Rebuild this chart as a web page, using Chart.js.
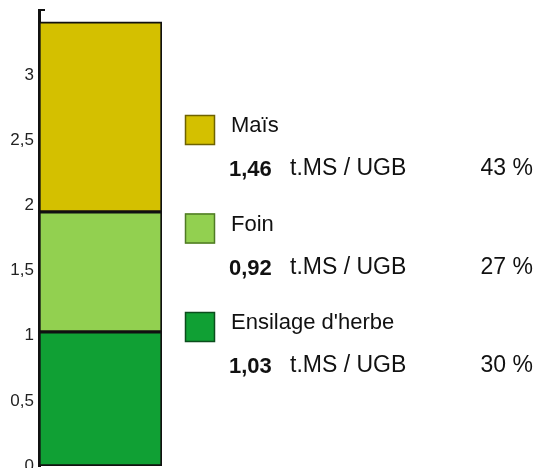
<!DOCTYPE html>
<html>
<head>
<meta charset="utf-8">
<script src="https://cdn.jsdelivr.net/npm/chart.js@4/dist/chart.umd.min.js"></script>
<style>
  body { margin: 0; background: #fff; }
</style>
</head>
<body>
<canvas id="fourrages" width="537" height="468"></canvas>
<script>
// feed stock per UGB, bottom to top of the bar
const feedLabels = ["Ensilage d'herbe", "Foin", "Maïs"];
const feedValues = [1.03, 0.92, 1.46];
const feedPercents = [30, 27, 43];
const feedColors = ["#10A034", "#92D050", "#D4C000"];
const feedBorders = ["#0b4d1c", "#4f7a25", "#6e6200"];
const unitLabel = "t.MS / UGB";
const yTicks = [0, 0.5, 1, 1.5, 2, 2.5, 3, 3.5];

const fmt = (v) => String(v).replace(".", ",");
const fmt2 = (v) => v.toFixed(2).replace(".", ",");

// legend on the right, top entry first (Maïs)
const sideLegend = {
  id: "sideLegend",
  afterDraw(chart) {
    const ctx = chart.ctx;
    ctx.save();
    const order = [2, 1, 0];
    order.forEach((idx, row) => {
      const top = 115 + row * 98.5;
      ctx.fillStyle = feedColors[idx];
      ctx.fillRect(185, top, 30, 30);
      ctx.strokeStyle = feedBorders[idx];
      ctx.lineWidth = 1.5;
      ctx.strokeRect(185.5, top + 0.5, 29, 29);

      ctx.fillStyle = "#111";
      ctx.textBaseline = "middle";
      ctx.textAlign = "left";
      ctx.font = "22px 'Liberation Sans', Arial, sans-serif";
      ctx.fillText(feedLabels[idx], 231, top + 11);

      ctx.font = "bold 22px 'Liberation Sans', Arial, sans-serif";
      ctx.fillText(fmt2(feedValues[idx]), 229, top + 55);
      ctx.font = "23px 'Liberation Sans', Arial, sans-serif";
      ctx.fillText(unitLabel, 290, top + 54);
      ctx.textAlign = "right";
      ctx.fillText(feedPercents[idx] + " %", 533, top + 54);
    });
    // small inward tick at the top of the axis
    const y = chart.scales.y;
    const py = y.getPixelForValue(yTicks[yTicks.length - 1]);
    ctx.strokeStyle = "#111";
    ctx.lineWidth = 2;
    ctx.beginPath();
    ctx.moveTo(38, py);
    ctx.lineTo(45, py);
    ctx.stroke();
    ctx.restore();
  }
};

new Chart(document.getElementById("fourrages"), {
  type: "bar",
  data: {
    labels: [""],
    datasets: feedLabels.map((name, i) => ({
      label: name,
      data: [feedValues[i]],
      backgroundColor: feedColors[i],
      borderColor: "#111",
      borderWidth: 2,
      borderSkipped: false,
      barPercentage: 1,
      categoryPercentage: 1
    }))
  },
  options: {
    responsive: false,
    animation: false,
    layout: { padding: { left: 0, top: 10, right: 375, bottom: 2 } },
    plugins: {
      legend: { display: false },
      tooltip: { enabled: false }
    },
    scales: {
      x: { stacked: true, display: false },
      y: {
        stacked: true,
        min: 0,
        max: 3.5,
        afterBuildTicks(scale) {
          scale.ticks = yTicks.map((v) => ({ value: v }));
        },
        afterFit(scale) {
          scale.width = 39;
          scale.paddingTop = 0;
          scale.paddingBottom = 0;
        },
        grid: { display: false, drawTicks: false, tickLength: 0 },
        border: { display: true, color: "#111", width: 3 },
        ticks: {
          padding: 5,
          color: "#222",
          font: { family: "'Liberation Sans', Arial, sans-serif", size: 17 },
          callback: (v) => (v === 3.5 ? "" : fmt(v))
        }
      }
    }
  },
  plugins: [sideLegend]
});
</script>
</body>
</html>
